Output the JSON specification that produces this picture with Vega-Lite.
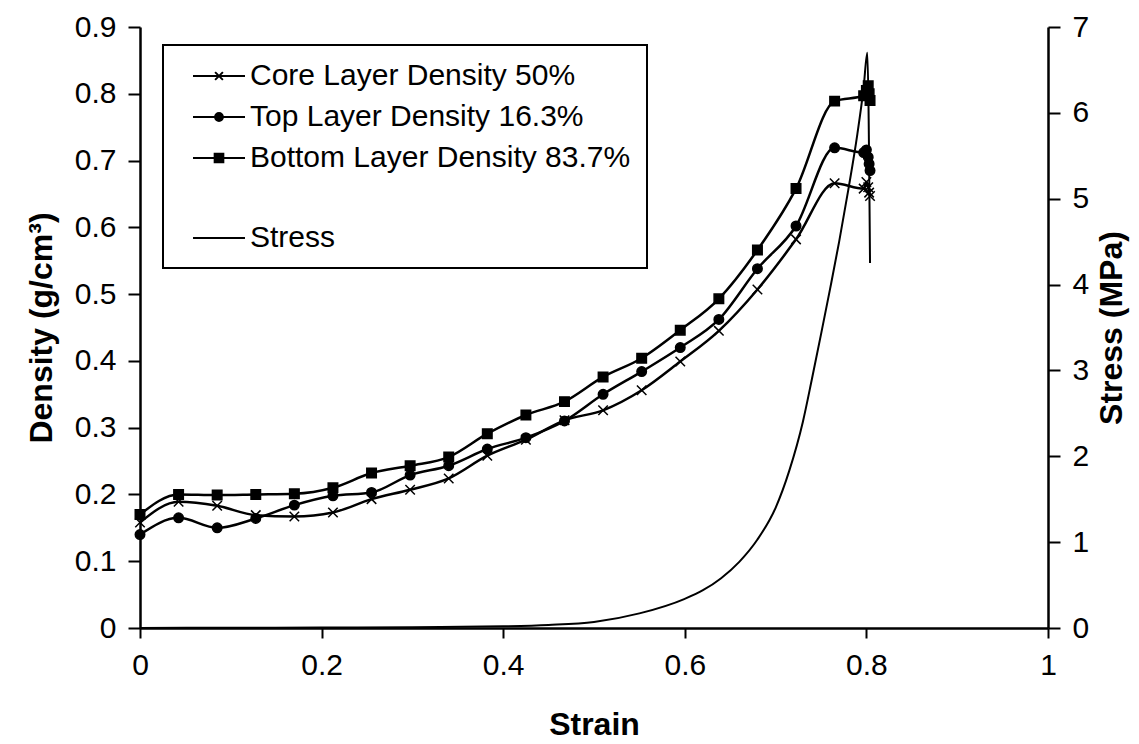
{
  "$schema": "https://vega.github.io/schema/vega-lite/v6.json",
  "width": 908,
  "height": 601,
  "autosize": "none",
  "padding": {"left": 140, "top": 27, "right": 91, "bottom": 116},
  "background": "white",
  "config": {
    "view": {"stroke": null},
    "font": "Liberation Sans",
    "axis": {
      "grid": false,
      "domainColor": "black",
      "domainWidth": 2.5,
      "tickColor": "black",
      "tickWidth": 2,
      "labelColor": "black",
      "titleColor": "black",
      "labelFont": "Liberation Sans",
      "titleFont": "Liberation Sans",
      "labelFontSize": 30,
      "titleFontSize": 32,
      "titleFontWeight": "bold",
      "labelOverlap": false,
      "labelFlush": false,
      "labelBound": false
    },
    "legend": {
      "labelFont": "Liberation Sans",
      "labelColor": "black",
      "labelFontSize": 30,
      "labelLimit": 800,
      "titleLimit": 1000,
      "strokeWidth": 2
    }
  },
  "datasets": {
    "dens": [
      {"s": 0, "d": 0.158, "layer": "Core Layer Density 50%"},
      {"s": 0.0425, "d": 0.189, "layer": "Core Layer Density 50%"},
      {"s": 0.085, "d": 0.183, "layer": "Core Layer Density 50%"},
      {"s": 0.1275, "d": 0.169, "layer": "Core Layer Density 50%"},
      {"s": 0.17, "d": 0.167, "layer": "Core Layer Density 50%"},
      {"s": 0.2125, "d": 0.173, "layer": "Core Layer Density 50%"},
      {"s": 0.255, "d": 0.193, "layer": "Core Layer Density 50%"},
      {"s": 0.2975, "d": 0.207, "layer": "Core Layer Density 50%"},
      {"s": 0.34, "d": 0.224, "layer": "Core Layer Density 50%"},
      {"s": 0.3825, "d": 0.258, "layer": "Core Layer Density 50%"},
      {"s": 0.425, "d": 0.282, "layer": "Core Layer Density 50%"},
      {"s": 0.4675, "d": 0.311, "layer": "Core Layer Density 50%"},
      {"s": 0.51, "d": 0.326, "layer": "Core Layer Density 50%"},
      {"s": 0.5525, "d": 0.356, "layer": "Core Layer Density 50%"},
      {"s": 0.595, "d": 0.399, "layer": "Core Layer Density 50%"},
      {"s": 0.6375, "d": 0.445, "layer": "Core Layer Density 50%"},
      {"s": 0.68, "d": 0.507, "layer": "Core Layer Density 50%"},
      {"s": 0.7225, "d": 0.582, "layer": "Core Layer Density 50%"},
      {"s": 0.765, "d": 0.666, "layer": "Core Layer Density 50%"},
      {"s": 0.797, "d": 0.658, "layer": "Core Layer Density 50%"},
      {"s": 0.8, "d": 0.668, "layer": "Core Layer Density 50%"},
      {"s": 0.802, "d": 0.66, "layer": "Core Layer Density 50%"},
      {"s": 0.803, "d": 0.652, "layer": "Core Layer Density 50%"},
      {"s": 0.804, "d": 0.647, "layer": "Core Layer Density 50%"},
      {"s": 0, "d": 0.14, "layer": "Top Layer Density 16.3%"},
      {"s": 0.0425, "d": 0.165, "layer": "Top Layer Density 16.3%"},
      {"s": 0.085, "d": 0.15, "layer": "Top Layer Density 16.3%"},
      {"s": 0.1275, "d": 0.164, "layer": "Top Layer Density 16.3%"},
      {"s": 0.17, "d": 0.184, "layer": "Top Layer Density 16.3%"},
      {"s": 0.2125, "d": 0.198, "layer": "Top Layer Density 16.3%"},
      {"s": 0.255, "d": 0.203, "layer": "Top Layer Density 16.3%"},
      {"s": 0.2975, "d": 0.229, "layer": "Top Layer Density 16.3%"},
      {"s": 0.34, "d": 0.243, "layer": "Top Layer Density 16.3%"},
      {"s": 0.3825, "d": 0.268, "layer": "Top Layer Density 16.3%"},
      {"s": 0.425, "d": 0.285, "layer": "Top Layer Density 16.3%"},
      {"s": 0.4675, "d": 0.31, "layer": "Top Layer Density 16.3%"},
      {"s": 0.51, "d": 0.35, "layer": "Top Layer Density 16.3%"},
      {"s": 0.5525, "d": 0.384, "layer": "Top Layer Density 16.3%"},
      {"s": 0.595, "d": 0.42, "layer": "Top Layer Density 16.3%"},
      {"s": 0.6375, "d": 0.462, "layer": "Top Layer Density 16.3%"},
      {"s": 0.68, "d": 0.538, "layer": "Top Layer Density 16.3%"},
      {"s": 0.7225, "d": 0.602, "layer": "Top Layer Density 16.3%"},
      {"s": 0.765, "d": 0.719, "layer": "Top Layer Density 16.3%"},
      {"s": 0.797, "d": 0.712, "layer": "Top Layer Density 16.3%"},
      {"s": 0.8, "d": 0.716, "layer": "Top Layer Density 16.3%"},
      {"s": 0.802, "d": 0.705, "layer": "Top Layer Density 16.3%"},
      {"s": 0.803, "d": 0.695, "layer": "Top Layer Density 16.3%"},
      {"s": 0.804, "d": 0.685, "layer": "Top Layer Density 16.3%"},
      {"s": 0, "d": 0.17, "layer": "Bottom Layer Density 83.7%"},
      {"s": 0.0425, "d": 0.2, "layer": "Bottom Layer Density 83.7%"},
      {"s": 0.085, "d": 0.199, "layer": "Bottom Layer Density 83.7%"},
      {"s": 0.1275, "d": 0.2, "layer": "Bottom Layer Density 83.7%"},
      {"s": 0.17, "d": 0.201, "layer": "Bottom Layer Density 83.7%"},
      {"s": 0.2125, "d": 0.21, "layer": "Bottom Layer Density 83.7%"},
      {"s": 0.255, "d": 0.232, "layer": "Bottom Layer Density 83.7%"},
      {"s": 0.2975, "d": 0.243, "layer": "Bottom Layer Density 83.7%"},
      {"s": 0.34, "d": 0.256, "layer": "Bottom Layer Density 83.7%"},
      {"s": 0.3825, "d": 0.291, "layer": "Bottom Layer Density 83.7%"},
      {"s": 0.425, "d": 0.319, "layer": "Bottom Layer Density 83.7%"},
      {"s": 0.4675, "d": 0.339, "layer": "Bottom Layer Density 83.7%"},
      {"s": 0.51, "d": 0.376, "layer": "Bottom Layer Density 83.7%"},
      {"s": 0.5525, "d": 0.404, "layer": "Bottom Layer Density 83.7%"},
      {"s": 0.595, "d": 0.446, "layer": "Bottom Layer Density 83.7%"},
      {"s": 0.6375, "d": 0.493, "layer": "Bottom Layer Density 83.7%"},
      {"s": 0.68, "d": 0.566, "layer": "Bottom Layer Density 83.7%"},
      {"s": 0.7225, "d": 0.658, "layer": "Bottom Layer Density 83.7%"},
      {"s": 0.765, "d": 0.789, "layer": "Bottom Layer Density 83.7%"},
      {"s": 0.797, "d": 0.797, "layer": "Bottom Layer Density 83.7%"},
      {"s": 0.8, "d": 0.805, "layer": "Bottom Layer Density 83.7%"},
      {"s": 0.802, "d": 0.812, "layer": "Bottom Layer Density 83.7%"},
      {"s": 0.803, "d": 0.8, "layer": "Bottom Layer Density 83.7%"},
      {"s": 0.804, "d": 0.79, "layer": "Bottom Layer Density 83.7%"}
    ],
    "stress": [
      {"s": 0, "p": 0, "curve": "Stress"},
      {"s": 0.1, "p": 0.003, "curve": "Stress"},
      {"s": 0.2, "p": 0.005, "curve": "Stress"},
      {"s": 0.3, "p": 0.01, "curve": "Stress"},
      {"s": 0.4, "p": 0.02, "curve": "Stress"},
      {"s": 0.45, "p": 0.035, "curve": "Stress"},
      {"s": 0.5, "p": 0.07, "curve": "Stress"},
      {"s": 0.55, "p": 0.17, "curve": "Stress"},
      {"s": 0.6, "p": 0.34, "curve": "Stress"},
      {"s": 0.62, "p": 0.44, "curve": "Stress"},
      {"s": 0.64, "p": 0.58, "curve": "Stress"},
      {"s": 0.66, "p": 0.77, "curve": "Stress"},
      {"s": 0.68, "p": 1.03, "curve": "Stress"},
      {"s": 0.7, "p": 1.4, "curve": "Stress"},
      {"s": 0.715, "p": 1.83, "curve": "Stress"},
      {"s": 0.73, "p": 2.4, "curve": "Stress"},
      {"s": 0.74, "p": 2.9, "curve": "Stress"},
      {"s": 0.75, "p": 3.42, "curve": "Stress"},
      {"s": 0.76, "p": 3.95, "curve": "Stress"},
      {"s": 0.77, "p": 4.5, "curve": "Stress"},
      {"s": 0.78, "p": 5.1, "curve": "Stress"},
      {"s": 0.79, "p": 5.75, "curve": "Stress"},
      {"s": 0.797, "p": 6.3, "curve": "Stress"},
      {"s": 0.801, "p": 6.7, "curve": "Stress"},
      {"s": 0.804, "p": 4.25, "curve": "Stress"}
    ]
  },
  "layer": [
    {
      "data": {"name": "dens"},
      "encoding": {
        "x": {
          "field": "s", "type": "quantitative",
          "scale": {"domain": [0, 1], "nice": false},
          "axis": {
            "title": "Strain",
            "values": [0, 0.2, 0.4, 0.6, 0.8, 1],
            "format": "~g",
            "tickSize": 10,
            "labelPadding": 12,
            "titlePadding": 29
          }
        },
        "y": {
          "field": "d", "type": "quantitative",
          "scale": {"domain": [0, 0.9], "nice": false},
          "axis": {
            "orient": "left",
            "title": "Density (g/cm³)",
            "values": [0, 0.1, 0.2, 0.3, 0.4, 0.5, 0.6, 0.7, 0.8, 0.9],
            "format": "~g",
            "tickSize": 12,
            "labelPadding": 12,
            "titlePadding": 16
          }
        }
      },
      "layer": [
        {
          "mark": {"type": "line", "color": "black", "strokeWidth": 2.5, "interpolate": "monotone"},
          "encoding": {"detail": {"field": "layer", "type": "nominal"}}
        },
        {
          "mark": {"type": "point", "filled": true, "color": "black", "stroke": "black", "strokeWidth": 1.5, "opacity": 1, "size": 90},
          "encoding": {
            "shape": {
              "field": "layer", "type": "nominal",
              "scale": {
                "domain": ["Core Layer Density 50%", "Top Layer Density 16.3%", "Bottom Layer Density 83.7%"],
                "range": ["M-1,-1L1,1M-1,1L1,-1", "circle", "square"]
              },
              "legend": null
            }
          }
        },
        {
          "mark": {"type": "point", "filled": false, "color": "black", "strokeWidth": 2, "opacity": 0, "size": 300},
          "encoding": {
            "shape": {
              "field": "layer", "type": "nominal",
              "scale": {
                "domain": ["Core Layer Density 50%", "Top Layer Density 16.3%", "Bottom Layer Density 83.7%"],
                "range": [
                  "M-3,0H3M-0.45,-0.45L0.45,0.45M-0.45,0.45L0.45,-0.45",
                  "M-3,0H3M0.45,0A0.45,0.45,0,1,1,-0.45,0A0.45,0.45,0,1,1,0.45,0ZM0.25,0A0.25,0.25,0,1,1,-0.25,0A0.25,0.25,0,1,1,0.25,0ZM0.08,0A0.08,0.08,0,1,1,-0.08,0A0.08,0.08,0,1,1,0.08,0Z",
                  "M-3,0H3M-0.5,-0.5H0.5V0.5H-0.5ZM-0.3,-0.3H0.3V0.3H-0.3ZM-0.1,-0.1H0.1V0.1H-0.1Z"
                ]
              },
              "legend": {
                "orient": "none",
                "legendX": 23,
                "legendY": 18,
                "title": "\u00a0\u00a0\u00a0\u00a0\u00a0\u00a0\u00a0\u00a0\u00a0\u00a0\u00a0\u00a0\u00a0\u00a0\u00a0\u00a0\u00a0\u00a0\u00a0\u00a0\u00a0\u00a0\u00a0\u00a0",
                "titleOrient": "bottom",
                "titleFontSize": 70,
                "titlePadding": 10,
                "padding": 16,
                "strokeColor": "black",
                "symbolSize": 300,
                "symbolOffset": 25,
                "symbolOpacity": 1,
                "symbolStrokeColor": "black",
                "symbolStrokeWidth": 2,
                "labelOffset": 16,
                "rowPadding": 11
              }
            }
          }
        }
      ],
      "resolve": {"scale": {"shape": "independent"}, "legend": {"shape": "independent"}}
    },
    {
      "data": {"name": "stress"},
      "mark": {"type": "line", "strokeWidth": 2, "interpolate": "monotone"},
      "encoding": {
        "x": {"field": "s", "type": "quantitative", "scale": {"domain": [0, 1], "nice": false}},
        "y": {
          "field": "p", "type": "quantitative",
          "scale": {"domain": [0, 7], "nice": false},
          "axis": {
            "orient": "right",
            "title": "Stress (MPa)",
            "values": [0, 1, 2, 3, 4, 5, 6, 7],
            "tickSize": 12,
            "labelPadding": 12,
            "titlePadding": 8,
            "titleAngle": -90,
            "titleBaseline": "top"
          }
        },
        "color": {
          "field": "curve", "type": "nominal",
          "scale": {"domain": ["Stress"], "range": ["black"]},
          "legend": {
            "orient": "none",
            "legendX": 23,
            "legendY": 180,
            "title": null,
            "padding": 16,
            "symbolType": "M-3,0H3",
            "symbolSize": 300,
            "symbolStrokeWidth": 2,
            "symbolStrokeColor": "black",
            "symbolOffset": 25,
            "labelOffset": 16
          }
        }
      }
    }
  ],
  "resolve": {"scale": {"y": "independent"}}
}
